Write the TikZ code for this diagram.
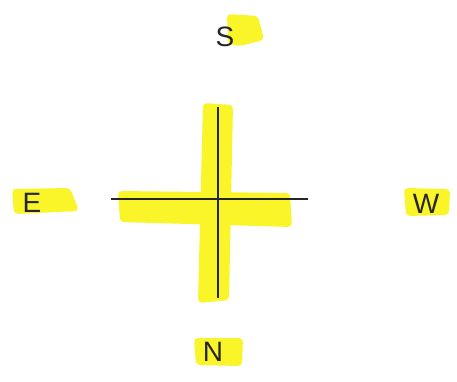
\documentclass[tikz,border=0pt]{standalone}
\usepackage{fontspec}
\setmainfont{Liberation Sans}
\definecolor{hl}{RGB}{250,245,40}
\begin{document}
\begin{tikzpicture}[x=1pt,y=-1pt,
  hlmark/.style={fill=hl,draw=none,rounded corners=4pt},
  lbl/.style={font=\fontsize{28}{30}\selectfont,text=black!85,inner sep=0pt},
  axis/.style={draw=black!85,line width=1.5pt}]
\useasboundingbox (0,0) rectangle (457,382);
% highlights
\fill[hlmark] (227,14) -- (258,16) -- (264,40) -- (240,46) -- (228,44) -- cycle;
\fill[hlmark] (12,189) -- (70,188) -- (79,211) -- (14,214) -- cycle;
\fill[hlmark] (404,188) -- (450,189) -- (449,215) -- (406,216) -- cycle;
\fill[hlmark] (194,338) -- (243,338) -- (242,366) -- (196,365) -- cycle;
\fill[hlmark] (203,103) -- (233,105) -- (229,300) -- (198,303) -- cycle;
\fill[hlmark] (118,191) -- (290,193) -- (292,227) -- (120,222) -- cycle;
% labels
\node[lbl] (s) at (225,37) {S};
\node[lbl] (e) at (32,203) {E};
\node[lbl] (w) at (426,204) {W};
\node[lbl] (n) at (213,352) {N};
% axes
\coordinate (top) at (218,107);
\coordinate (bot) at (218,298);
\coordinate (lft) at (111,199);
\coordinate (rgt) at (308,199);
\draw[axis] (top) -- (bot);
\draw[axis] (lft) -- (rgt);
\end{tikzpicture}
\end{document}
